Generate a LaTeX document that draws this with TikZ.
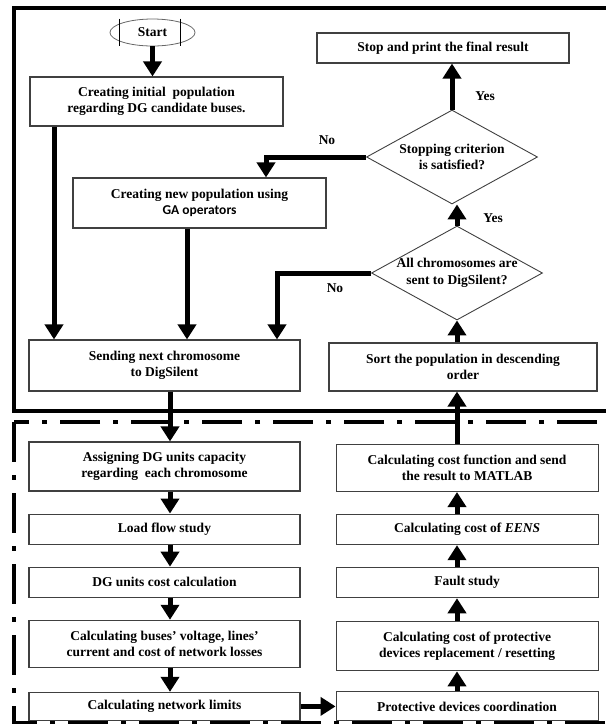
\documentclass[tikz,border=0pt]{standalone}
\usepackage{fontspec}
\setmainfont{Liberation Serif}
\newfontfamily\calfont{Carlito}
\usetikzlibrary{arrows.meta,positioning,shapes.geometric}

\begin{document}
\begin{tikzpicture}[
    x=1pt, y=-1pt,
    node distance=22pt and 35pt,
    font=\bfseries\fontsize{13.5}{16.5}\selectfont,
    box/.style={
      draw=black!75, line width=1.1pt, align=center,
      inner xsep=4pt, inner ysep=2pt, minimum height=30pt
    },
    lbox/.style={box, minimum width=271pt},
    rbox/.style={box, minimum width=262pt},
    decision/.style={
      diamond, draw=black!75, line width=0.9pt, align=center,
      aspect=1.82, inner sep=-8pt, minimum width=171pt, minimum height=94pt
    },
    arrow/.style={-{Triangle[width=18pt,length=15pt]}, line width=5pt},
    frame/.style={line width=4pt}
  ]
  \useasboundingbox (0,0) rectangle (606,724);
  % frames: GA part (top) and DigSilent part (bottom)
  \draw[frame] (14,7.5) rectangle (608,411);
  \draw[frame, dash pattern=on 40pt off 13pt on 5pt off 13pt] (14,422) rectangle (608,723);

  % x positions of the vertical connectors
  \coordinate (cA) at (54,0);
  \coordinate (cB) at (187,0);
  \coordinate (cC) at (277,0);
  \coordinate (cD) at (266,0);
  \coordinate (cL) at (170,0);
  \coordinate (cR) at (457,0);

  \node[ellipse, draw=black!60, line width=0.8pt, minimum width=85pt,
        minimum height=27pt, inner sep=0pt] (start) at (152.5,32.5) {Start};
  \draw[line width=1.8pt] ([xshift=-33pt]start.north) -- ([xshift=-33pt]start.south);
  \draw[line width=1.8pt] ([xshift=28pt]start.north) -- ([xshift=28pt]start.south);

  \node[box, minimum width=253pt, minimum height=49pt] (init) at (156.5,101.5)
    {Creating initial\ \ population\\regarding DG candidate buses.};
  \node[box, minimum width=253pt, minimum height=50pt] (newpop) at (199.5,203)
    {Creating new population using\\{\calfont GA operators}};
  \node[lbox, minimum height=51pt] (sending) at (164.5,365.5)
    {Sending next chromosome\\to DigSilent};

  \node[box, minimum width=252pt] (stop) at (443,48) {Stop and print the final result};
  \node[decision] (stopcrit) at (452,157) {Stopping criterion\\is satisfied?};
  \node[decision] (allsent) at (457,273) {All chromosomes are\\sent to DigSilent?};
  \node[box, minimum width=268pt, minimum height=48pt] (sort) at (463,367)
    {Sort the population in descending\\order};

  % DigSilent part
  \node[lbox, minimum height=49pt] (assign) at (164.5,466.5)
    {Assigning DG units capacity\\regarding\ \ each chromosome};
  \node[lbox, below=of assign] (loadflow) {Load flow study};
  \node[lbox, below=of loadflow] (dgcost) {DG units cost calculation};
  \node[lbox, minimum height=47pt, below=of dgcost] (buses)
    {Calculating buses' voltage, lines'\\current and cost of network losses};
  \node[lbox, minimum height=28pt, below=24pt of buses] (limits) {Calculating network limits};

  \node[rbox, minimum height=29pt, right=of limits] (coord) {Protective devices coordination};
  \node[rbox, minimum height=49pt, above=20pt of coord] (protect)
    {Calculating cost of protective\\devices replacement / resetting};
  \node[rbox, above=23pt of protect] (fault) {Fault study};
  \node[rbox, above=of fault] (eens) {Calculating cost of \textit{EENS}};
  \node[rbox, minimum height=47pt, above=of eens] (costfn)
    {Calculating cost function and send\\the result to MATLAB};

  % labels
  \node (no1) at (327,140) {No};
  \node (yes1) at (485,96) {Yes};
  \node (yes2) at (493,218) {Yes};
  \node (no2) at (335,288) {No};

  \draw[arrow] (start.south) -- (start.south |- init.north);
  \draw[arrow] (init.south -| cA) -- (sending.north -| cA);
  \draw[arrow] (newpop.south -| cB) -- (sending.north -| cB);
  \draw[arrow] (allsent.west) -| (sending.north -| cC);
  \draw[arrow] (stopcrit.west) -| (newpop.north -| cD);
  \draw[arrow] (allsent.north) -- (allsent.north |- stopcrit.south);
  \draw[arrow] (stopcrit.north) -- (stopcrit.north |- stop.south);
  \foreach \a/\b in {sending/assign, assign/loadflow, loadflow/dgcost, dgcost/buses, buses/limits}
    \draw[arrow] (\a.south -| cL) -- (\b.north -| cL);
  \draw[arrow] (limits) -- (coord);
  \foreach \a/\b in {coord/protect, protect/fault, fault/eens, eens/costfn, costfn/sort, sort/allsent}
    \draw[arrow] (\a.north -| cR) -- (\b.south -| cR);
\end{tikzpicture}
\end{document}
